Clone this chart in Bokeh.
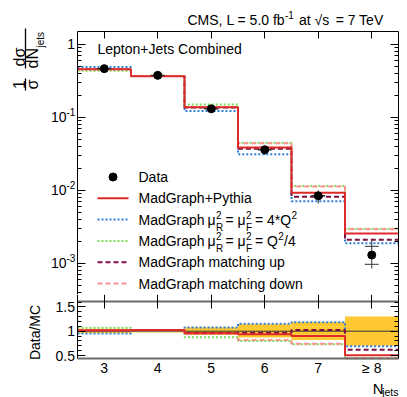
import numpy as np
from bokeh.plotting import figure
from bokeh.models import (Range1d, LogAxis, LinearAxis, FixedTicker, LogTicker,
                          CustomJSTickFormatter)
from bokeh.layouts import column
from bokeh.embed import file_html
from bokeh.resources import INLINE
from bokeh.core.properties import value

# ---------------- data ----------------
njets = [3, 4, 5, 6, 7, 8]
njets_labels = ["3", "4", "5", "6", "7", "\u2265 8"]
bin_edges = [2.5, 3.5, 4.5, 5.5, 6.5, 7.5, 8.5]

data_val = [0.465, 0.376, 0.131, 0.036, 0.0084, 0.0013]
data_err_lo = [0.452, 0.366, 0.124, 0.0305, 0.0066, 0.00085]
data_err_hi = [0.478, 0.386, 0.138, 0.0405, 0.0100, 0.00207]
data_stat_lo = [0.463, 0.374, 0.130, 0.0357, 0.0083, 0.00097]
data_stat_hi = [0.467, 0.378, 0.132, 0.0363, 0.0085, 0.00171]

mg_pythia = [0.456, 0.367, 0.137, 0.0385, 0.0093, 0.00257]
mg_scale_up = [0.489, 0.368, 0.122, 0.0312, 0.0071, 0.00189]     # mu^2 = 4*Q^2
mg_scale_down = [0.435, 0.368, 0.150, 0.0450, 0.0115, 0.00298]   # mu^2 = Q^2/4
mg_match_up = [0.458, 0.368, 0.136, 0.0372, 0.0082, 0.00210]
mg_match_down = [0.455, 0.368, 0.139, 0.0440, 0.0113, 0.00293]

band_lo = [0.96, 0.975, 0.92, 0.87, 0.82, 0.70]
band_hi = [1.05, 1.030, 1.08, 1.15, 1.19, 1.30]

ratio_ticks = [0.5, 1.0, 1.5]
ratio_tick_labels = ["0.5", "1", "1.5"]
ytick_vals = [1.0, 0.1, 0.01, 0.001]
ytick_exp = ["", "-1", "-2", "-3"]

# ---------------- style / geometry ----------------
FONT = "Liberation Sans"
C_RED = "#dd2a2a"
C_BLUE = "#2f7fd8"
C_GREEN = "#7ddc5a"
C_DARK = "#7a1040"
C_PINK = "#ff9090"
C_YELLOW = "#ffc933"
C_GRAY = "#6a6a6a"

W = 399
H_MAIN = 294             # main canvas: page y 0..294
H_RATIO = 103            # ratio canvas: page y 294..397
XR = (2.5, 8.5)          # plot box x range
YR = (3e-4, 1.5)         # plot box y range (log)
BOX_L, BOX_R = 77, 398   # page px of plot box
BOX_T, BOX_B = 31, 301
SX = (BOX_R - BOX_L) / (XR[1] - XR[0])
K = np.log10(YR[1] / YR[0]) / (BOX_B - BOX_T)   # decades per px
R1_PY, R_SY = 330.7, 48.6                       # ratio: page px of 1.0, px per unit


def px2x(px):
    return XR[0] + (px - BOX_L) / SX


def py2y(py):
    return 10 ** (np.log10(YR[1]) - (py - BOX_T) * K)


def py2r(py):
    return 1.0 + (R1_PY - py) / R_SY


RATIO_BOX = (py2r(358), py2r(BOX_B))

series = [
    (mg_scale_up, C_BLUE, "2 2"),
    (mg_scale_down, C_GREEN, "2 2"),
    (mg_match_up, C_DARK, "5 3"),
    (mg_match_down, C_PINK, "5 3"),
    (mg_pythia, C_RED, "solid"),
]

BLANK = CustomJSTickFormatter(code="return '';")


def make_axis(cls, ticker, loc, bounds, tin, minor_in=0, color="black", width=1, tout=0):
    ax = cls(ticker=ticker, fixed_location=loc, bounds=bounds, formatter=BLANK)
    ax.major_tick_in = tin
    ax.major_tick_out = tout
    ax.minor_tick_in = minor_in
    ax.minor_tick_out = 0
    ax.axis_line_color = color
    ax.axis_line_width = width
    ax.major_tick_line_color = "black"
    ax.minor_tick_line_color = "black"
    ax.major_label_text_font_size = "1px"
    ax.major_label_standoff = 0
    return ax


def txt(fig, xs, ys, texts, size=14, align="left", baseline="middle", angle=0.0):
    fig.text(x=list(xs), y=list(ys), text=list(texts), text_font=value(FONT),
             text_font_size=f"{size}px", text_align=align, text_baseline=baseline,
             angle=angle, text_color="black")


def steps(fig, vals, color, dash, width=2):
    fig.step(x=bin_edges, y=list(vals) + [vals[-1]], mode="after",
             line_color=color, line_dash=dash, line_width=width)


def base_fig(h, xr, yr, ytype="linear"):
    f = figure(width=W, height=h, x_range=Range1d(*xr), y_range=Range1d(*yr),
               y_axis_type=ytype, x_axis_location=None, y_axis_location=None,
               output_backend="svg", toolbar_location=None, min_border=0)
    f.xgrid.visible = False
    f.ygrid.visible = False
    f.outline_line_color = None
    f.background_fill_color = "white"
    f.border_fill_color = "white"
    return f


# ---------------- main panel ----------------
main = base_fig(H_MAIN, (px2x(0), px2x(W)), (py2y(H_MAIN), py2y(0)), "log")
main.add_layout(make_axis(LogAxis, LogTicker(num_minor_ticks=10), XR[0], YR, 8, 4), "left")
main.add_layout(make_axis(LogAxis, LogTicker(num_minor_ticks=10), XR[1], YR, 8, 4), "right")
main.add_layout(make_axis(LinearAxis, FixedTicker(ticks=njets), YR[1], XR, 7), "above")

for vals, col, dash in series:
    steps(main, vals, col, dash)

nj = np.array(njets, dtype=float)
main.segment(x0=nj, y0=data_err_lo, x1=nj, y1=data_err_hi, line_color="#333333", line_width=1)
main.segment(x0=nj - 0.13, y0=data_stat_lo, x1=nj + 0.13, y1=data_stat_lo, line_color="#333333", line_width=1)
main.segment(x0=nj - 0.13, y0=data_stat_hi, x1=nj + 0.13, y1=data_stat_hi, line_color="#333333", line_width=1)
main.scatter(njets, data_val, size=8, color="black")

# y tick labels: 1, 10^-1, 10^-2, 10^-3
sup_shift = 10 ** (5 * K)
txt(main, [px2x(74.5)], [ytick_vals[0]], ["1"], align="right")
txt(main, [px2x(66)] * 3, ytick_vals[1:], ["10"] * 3, align="right")
txt(main, [px2x(66)] * 3, [v * sup_shift for v in ytick_vals[1:]], ytick_exp[1:], size=10)

# y axis title: 1/sigma dsigma/dN_jets
R = np.pi / 2
txt(main, [px2x(18.5)], [py2y(88.5)], ["1"], size=16, angle=R)
txt(main, [px2x(32)], [py2y(89)], ["\u03c3"], size=16, angle=R)
txt(main, [px2x(18.5)], [py2y(66)], ["d\u03c3"], size=16, angle=R)
txt(main, [px2x(32)], [py2y(68)], ["dN"], size=16, angle=R)
txt(main, [px2x(40)], [py2y(47)], ["jets"], size=10, angle=R)
main.segment(x0=[px2x(25)] * 2, y0=[py2y(78), py2y(28)], x1=[px2x(25)] * 2,
             y1=[py2y(90), py2y(68)], line_color="black", line_width=1.3)

# title
txt(main, [px2x(187)], [py2y(19.5)], ["CMS, L = 5.0 fb"])
txt(main, [px2x(284.5)], [py2y(14.5)], ["-1"], size=10)
txt(main, [px2x(298.5)], [py2y(19.5)], ["at \u221as"])
txt(main, [px2x(383)], [py2y(19.5)], ["= 7 TeV"], align="right")
txt(main, [px2x(97)], [py2y(48.5)], ["Lepton+Jets Combined"])

# legend
rows = [176.5, 197.8, 219.1, 240.4, 261.7, 283.0]
main.scatter([px2x(112.5)], [py2y(rows[0])], size=8, color="black")
for (vals, col, dash), r in zip([series[4], series[0], series[1], series[2], series[3]], rows[1:]):
    main.line([px2x(97), px2x(128)], [py2y(r), py2y(r)], line_color=col,
              line_dash=dash, line_width=2)
txt(main, [px2x(138)] * 2, [py2y(rows[0]), py2y(rows[1])], ["Data", "MadGraph+Pythia"])
for r, tail in [(rows[2], ("= 4*Q", "2", "")), (rows[3], ("= Q", "2", "/4"))]:
    txt(main, [px2x(138)], [py2y(r)], ["MadGraph"])
    txt(main, [px2x(207)], [py2y(r)], ["\u03bc"])
    txt(main, [px2x(215.5), px2x(245.5)], [py2y(r - 5)] * 2, ["2", "2"], size=10)
    txt(main, [px2x(215.5), px2x(245.5)], [py2y(r + 8)] * 2, ["R", "F"], size=10)
    txt(main, [px2x(225)], [py2y(r)], ["= \u03bc"])
    txt(main, [px2x(254.5)], [py2y(r)], [tail[0]])
    t0 = 254.5 + (36.5 if tail[0] == "= 4*Q" else 23.3)
    txt(main, [px2x(t0)], [py2y(r - 5)], [tail[1]], size=10)
    if tail[2]:
        txt(main, [px2x(t0 + 5.8)], [py2y(r)], [tail[2]])
txt(main, [px2x(138)] * 2, [py2y(rows[4]), py2y(rows[5])],
    ["MadGraph matching up", "MadGraph matching down"])

# ---------------- ratio panel ----------------
ratio = base_fig(H_RATIO, (px2x(0), px2x(W)), (py2r(H_MAIN + H_RATIO), py2r(H_MAIN)))
minor = [round(0.5 + 0.1 * i, 1) for i in range(12)]
side_bounds = (RATIO_BOX[0], py2r(H_MAIN))
ratio.add_layout(make_axis(LinearAxis, FixedTicker(ticks=ratio_ticks, minor_ticks=minor),
                           XR[0], side_bounds, 8, 4), "left")
ratio.add_layout(make_axis(LinearAxis, FixedTicker(ticks=ratio_ticks, minor_ticks=minor),
                           XR[1], side_bounds, 8, 4), "right")

ratio.quad(left=bin_edges[:-1], right=bin_edges[1:], bottom=band_lo, top=band_hi,
           fill_color=C_YELLOW, line_color=None)
ratio.segment(x0=[bin_edges[0]], y0=[1.0], x1=[bin_edges[-1]], y1=[1.0],
              line_color="#333333", line_width=1)
dv = np.array(data_val)
for vals, col, dash in series:
    steps(ratio, list(dv / np.array(vals)), col, dash)

ratio.add_layout(make_axis(LinearAxis, FixedTicker(ticks=njets), RATIO_BOX[1], XR, 7,
                           color=C_GRAY, width=2, tout=7), "above")
ratio.add_layout(make_axis(LinearAxis, FixedTicker(ticks=[]), RATIO_BOX[0], XR, 0,
                           color=C_GRAY, width=2), "below")

txt(ratio, [px2x(74.5)] * 3, ratio_ticks, ratio_tick_labels, align="right")
txt(ratio, njets, [py2r(367.5)] * len(njets), njets_labels, align="center")
txt(ratio, [px2x(34.5)], [py2r(332)], ["Data/MC"], align="center", angle=R)
txt(ratio, [px2x(383)], [py2r(388)], ["N"], size=15, align="right", baseline="alphabetic")
txt(ratio, [px2x(398)], [py2r(391.5)], ["jets"], size=10.5, align="right", baseline="alphabetic")

layout = column(main, ratio, spacing=0)
open("out.html", "w").write(file_html(layout, INLINE))
